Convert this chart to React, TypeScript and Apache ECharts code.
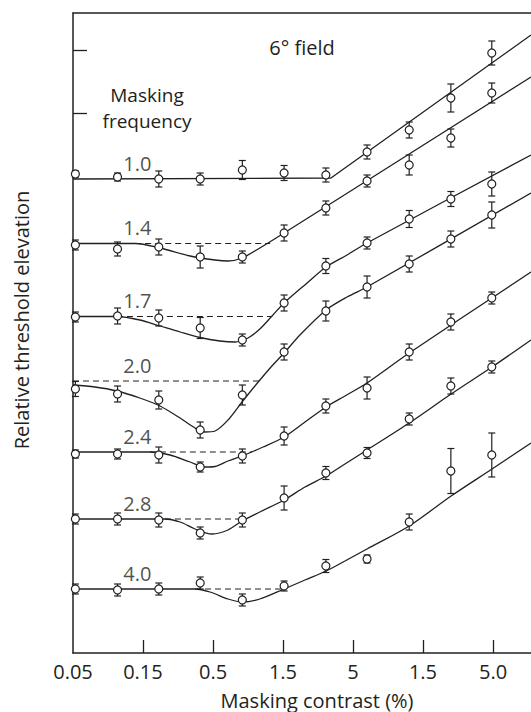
import React, { useEffect, useRef } from 'react';
import * as echarts from 'echarts';

const INK = '#231f20';
const FONT = '"Open Sans", "Noto Sans", sans-serif';

// x axis (masking contrast, %), log scaled
const contrastMin = 0.05;
const contrastMax = 93.4;
const tickContrasts = [0.05, 0.158, 0.5, 1.58, 5, 15.8, 50];
const tickLabels = ['0.05', '0.15', '0.5', '1.5', '5', '1.5', '5.0'];
// y axis (relative threshold elevation, arbitrary offset units)
const yMin = 0;
const yMax = 64;
const yTickValues = [54.0, 60.3];

// measured contrasts
const contrastPct = [0.052, 0.104, 0.205, 0.405, 0.81, 1.61, 3.2, 6.3, 12.6, 25, 49];
const maskingFrequencies = ['1.0', '1.4', '1.7', '2.0', '2.4', '2.8', '4.0'];
const labelContrast = 0.144;
const baselines = [47.4, 40.95, 33.65, 27.2, 20.1, 13.4, 6.4];

// data points and error half-widths per masking frequency
const thr10 = [47.9, 47.6, 47.4, 47.4, 48.3, 48.0, 47.8, 50.1, 52.3, 55.5, 60.0];
const err10 = [0.3, 0.4, 0.8, 0.6, 0.95, 0.75, 0.7, 0.7, 0.8, 1.4, 1.2];
const thr14 = [40.8, 40.4, 40.6, 39.6, 39.6, 42.0, 44.5, 47.2, 48.8, 51.5, 56.0];
const err14 = [0.5, 0.7, 0.8, 1.1, 0.6, 0.8, 0.7, 0.6, 1.0, 0.9, 1.0];
const thr17 = [33.6, 33.7, 33.5, 32.5, 31.3, 35.0, 38.7, 41.0, 43.4, 45.4, 46.9];
const err17 = [0.5, 0.8, 0.8, 1.05, 0.6, 0.8, 0.75, 0.6, 0.85, 0.75, 1.2];
const thr20 = [26.4, 25.9, 25.3, 22.3, 25.8, 30.1, 34.2, 36.6, 38.9, 41.4, 43.8];
const err20 = [0.75, 0.8, 0.9, 0.8, 1.0, 0.8, 1.0, 1.1, 0.8, 0.8, 1.3];
const thr24 = [19.9, 19.9, 19.8, 18.6, 19.7, 21.7, 24.7, 26.5, 30.1, 33.1, 35.5];
const err24 = [0.4, 0.5, 0.8, 0.5, 0.7, 0.9, 0.7, 1.1, 0.8, 0.8, 0.6];
const thr28 = [13.4, 13.4, 13.3, 12.0, 13.3, 15.5, 18.0, 20.0, 23.4, 26.7, 28.6];
const err28 = [0.5, 0.6, 0.7, 0.6, 0.7, 1.2, 0.65, 0.55, 0.6, 0.8, 0.6];
const thr40 = [6.4, 6.3, 6.4, 7.0, 5.3, 6.7, 8.7, 9.4, 13.1, 18.2, 19.8];
const err40 = [0.5, 0.6, 0.6, 0.6, 0.6, 0.5, 0.65, 0.4, 0.8, 2.25, 2.2];

// fitted curves [contrast %, elevation]
const fit10 = [[0.05, 47.4], [3.48, 47.5], [93.4, 61.8]];
const fit14 = [[0.05, 40.95], [0.139, 40.95], [0.209, 40.5], [0.343, 39.7], [0.517, 39.3], [0.64, 39.2], [0.806, 39.5], [1.08, 40.5], [1.61, 42.0], [93.4, 57.6]];
const fit17 = [[0.05, 33.65], [0.103, 33.65], [0.15, 33.3], [0.209, 32.7], [0.291, 32.1], [0.404, 31.55], [0.561, 31.2], [0.718, 31.1], [0.889, 31.5], [1.08, 32.4], [1.32, 33.7], [1.61, 35.0], [2.35, 37.0], [3.21, 38.6], [4.53, 39.8], [6.29, 41.0], [93.4, 49.8]];
const fit20 = [[0.05, 26.8], [0.0718, 26.6], [0.103, 26.2], [0.15, 25.5], [0.209, 24.7], [0.291, 23.5], [0.372, 22.5], [0.438, 22.1], [0.517, 22.2], [0.64, 23.3], [0.806, 25.1], [1.01, 26.8], [1.28, 28.5], [1.61, 30.0], [2.09, 31.8], [3.21, 34.3], [4.53, 35.6], [6.29, 36.6], [93.4, 46.0]];
const fit24 = [[0.05, 20.1], [0.177, 20.1], [0.247, 19.8], [0.343, 19.1], [0.438, 18.6], [0.517, 18.65], [0.64, 19.2], [0.806, 19.7], [1.14, 20.6], [1.61, 21.6], [2.27, 23.1], [3.21, 24.6], [4.38, 25.7], [6.29, 27.0], [12.6, 30.0], [93.4, 38.1]];
const fit28 = [[0.05, 13.4], [0.227, 13.4], [0.291, 13.1], [0.372, 12.4], [0.492, 11.9], [0.64, 12.3], [0.806, 13.2], [1.08, 14.1], [1.61, 15.3], [2.27, 16.6], [3.21, 17.7], [4.38, 18.9], [6.29, 20.3], [12.6, 23.0], [25.1, 25.9], [49.2, 28.6], [93.4, 31.3]];
const fit40 = [[0.05, 6.4], [0.372, 6.4], [0.476, 6.1], [0.64, 5.4], [0.806, 5.1], [1.08, 5.4], [1.61, 6.4], [2.27, 7.3], [3.21, 8.2], [4.38, 9.2], [6.29, 10.4], [12.6, 12.7], [25.1, 15.7], [49.2, 18.4], [93.4, 21.0]];

// dashed baseline extensions [contrast from, contrast to]
const dash14 = [0.139, 1.28];
const dash17 = [0.103, 1.32];
const dash20 = [0.05, 1.08];
const dash24 = [0.177, 0.95];
const dash28 = [0.227, 0.86];
const dash40 = [0.372, 1.61];

const lg = (c: number) => Math.log10(c);

const renderErrorBar = (_params: any, api: any) => {
  const x = api.value(0);
  const y = api.value(1);
  const e = api.value(2);
  const hi = api.coord([x, y + e]);
  const lo = api.coord([x, y - e]);
  const w = 3.5;
  const style = { stroke: INK, lineWidth: 1.2 };
  return {
    type: 'group',
    children: [
      { type: 'line', shape: { x1: hi[0], y1: hi[1], x2: lo[0], y2: lo[1] }, style },
      { type: 'line', shape: { x1: hi[0] - w, y1: hi[1], x2: hi[0] + w, y2: hi[1] }, style },
      { type: 'line', shape: { x1: lo[0] - w, y1: lo[1], x2: lo[0] + w, y2: lo[1] }, style },
    ],
  };
};

const textStyle = (text: string, size = 20) => ({
  text,
  fill: INK,
  font: `${size}px ${FONT}`,
  align: 'center',
  verticalAlign: 'middle',
  textAlign: 'center',
  textVerticalAlign: 'middle',
});

export default function App() {
  const ref = useRef<HTMLDivElement>(null);
  useEffect(() => {
    const chart = echarts.init(ref.current!, null, { renderer: 'svg' });
    const groups = [
      { thr: thr10, err: err10, fit: fit10, dash: null as number[] | null, base: baselines[0], smooth: false },
      { thr: thr14, err: err14, fit: fit14, dash: dash14, base: baselines[1], smooth: true },
      { thr: thr17, err: err17, fit: fit17, dash: dash17, base: baselines[2], smooth: true },
      { thr: thr20, err: err20, fit: fit20, dash: dash20, base: baselines[3], smooth: true },
      { thr: thr24, err: err24, fit: fit24, dash: dash24, base: baselines[4], smooth: true },
      { thr: thr28, err: err28, fit: fit28, dash: dash28, base: baselines[5], smooth: true },
      { thr: thr40, err: err40, fit: fit40, dash: dash40, base: baselines[6], smooth: true },
    ];
    const series: any[] = [];
    groups.forEach((g) => {
      series.push({
        type: 'line',
        data: g.fit.map(([c, v]) => [lg(c), v]),
        showSymbol: false,
        symbol: 'none',
        smooth: g.smooth ? 0.3 : false,
        lineStyle: { color: INK, width: 1.3 },
        silent: true,
        z: 2,
      });
      if (g.dash) {
        series.push({
          type: 'line',
          data: g.dash.map((c) => [lg(c), g.base]),
          showSymbol: false,
          symbol: 'none',
          lineStyle: { color: INK, width: 1.2, type: [6, 4] },
          silent: true,
          z: 2,
        });
      }
      series.push({
        type: 'custom',
        renderItem: renderErrorBar,
        data: contrastPct.map((c, i) => [lg(c), g.thr[i], g.err[i]]),
        encode: { x: 0, y: 1 },
        silent: true,
        z: 3,
      });
      series.push({
        type: 'scatter',
        data: contrastPct.map((c, i) => [lg(c), g.thr[i]]),
        symbol: 'circle',
        symbolSize: 8,
        itemStyle: { color: '#ffffff', borderColor: INK, borderWidth: 1.2, opacity: 1 },
        silent: true,
        z: 4,
      });
    });
    series.push({
      type: 'scatter',
      data: maskingFrequencies.map((f, i) => ({ value: [lg(labelContrast), baselines[i]], name: f })),
      symbolSize: 1,
      itemStyle: { color: 'transparent' },
      label: {
        show: true,
        formatter: (p: any) => p.name,
        position: 'inside',
        offset: [0, -16],
        color: INK,
        fontSize: 20,
        fontFamily: FONT,
      },
      silent: true,
      z: 5,
    });

    const tickVals = tickContrasts.map(lg);
    chart.setOption({
      animation: false,
      grid: { left: 73, right: 0, top: 13, bottom: 59, containLabel: false },
      xAxis: [
        {
          type: 'value',
          min: lg(contrastMin),
          max: lg(contrastMax),
          axisLine: { show: true, onZero: false, lineStyle: { color: INK, width: 1.5 } },
          axisTick: {
            show: true,
            inside: true,
            length: 13,
            customValues: tickVals.slice(1),
            lineStyle: { color: INK, width: 1.3 },
          },
          axisLabel: {
            show: true,
            customValues: tickVals,
            formatter: (v: number) => {
              const i = tickVals.findIndex((t) => Math.abs(t - v) < 1e-6);
              return i >= 0 ? tickLabels[i] : '';
            },
            margin: 8,
            color: INK,
            fontSize: 20,
            fontFamily: FONT,
          },
          splitLine: { show: false },
        },
        {
          type: 'value',
          position: 'top',
          min: lg(contrastMin),
          max: lg(contrastMax),
          axisLine: { show: true, onZero: false, lineStyle: { color: INK, width: 1.5 } },
          axisTick: { show: false },
          axisLabel: { show: false },
          splitLine: { show: false },
        },
      ],
      yAxis: {
        type: 'value',
        position: 'left',
        min: yMin,
        max: yMax,
        axisLine: { show: true, onZero: false, lineStyle: { color: INK, width: 1.5 } },
        axisTick: {
          show: true,
          inside: true,
          length: 14,
          customValues: yTickValues,
          lineStyle: { color: INK, width: 1.3 },
        },
        axisLabel: { show: false },
        splitLine: { show: false },
      },
      graphic: [
        { type: 'text', x: 302, y: 47, style: textStyle('6° field') },
        { type: 'text', x: 147, y: 95, style: textStyle('Masking', 19) },
        { type: 'text', x: 147, y: 121, style: textStyle('frequency', 19) },
        { type: 'text', x: 21, y: 320, rotation: Math.PI / 2, style: textStyle('Relative threshold elevation') },
        { type: 'text', x: 317, y: 700, style: textStyle('Masking contrast (%)') },
      ],
      series,
    });
    return () => chart.dispose();
  }, []);
  return <div ref={ref} style={{ position: 'absolute', left: 0, top: 0, width: 531, height: 712 }} />;
}
